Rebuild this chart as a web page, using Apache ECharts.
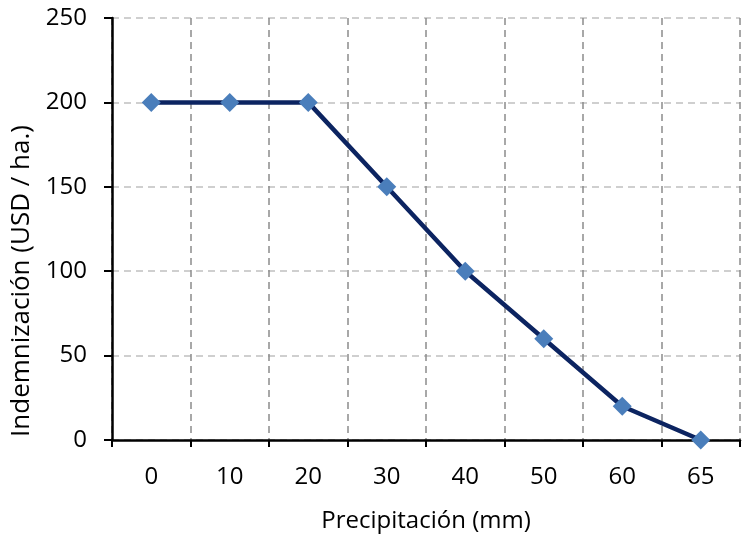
<!DOCTYPE html>
<html lang="es">
<head>
    <meta charset="UTF-8">
    <title>Indemnización</title>
    <style>
        body { margin: 0; padding: 0; background: #fff; }
        #chart { width: 742px; height: 537px; }
    </style>
    <script src="https://cdn.jsdelivr.net/npm/echarts@6/dist/echarts.min.js"></script>
</head>
<body>
    <div id="chart"></div>
    <script>
        // datos
        var categories = ['0', '10', '20', '30', '40', '50', '60', '65'];
        var indemnizacion = [200, 200, 200, 150, 100, 60, 20, 0];

        var myChart = echarts.init(document.getElementById('chart'));
        var font = '"Open Sans", sans-serif';
        var option = {
            animation: false,
            grid: { left: 112, right: 2, top: 18, bottom: 97, outerBoundsMode: 'none', containLabel: false },
            xAxis: {
                type: 'category',
                data: categories,
                boundaryGap: true,
                name: 'Precipitación (mm)',
                nameLocation: 'middle',
                nameGap: 69,
                nameTextStyle: { color: '#000', fontSize: 24, fontFamily: font },
                axisLine: { lineStyle: { color: '#000', width: 2.5 } },
                axisTick: { show: true, length: 7, lineStyle: { color: '#000', width: 2 } },
                axisLabel: { color: '#000', fontSize: 24, fontFamily: font, margin: 25 },
                splitLine: { show: true, lineStyle: { color: '#8c8c8c', type: [7, 5], width: 1.5 } }
            },
            yAxis: {
                type: 'value',
                min: 0,
                max: 250,
                interval: 50,
                name: 'Indemnización (USD / ha.)',
                nameLocation: 'middle',
                nameGap: 74,
                // el título está desplazado hacia abajo respecto al centro del eje
                nameTextStyle: { color: '#000', fontSize: 26, fontFamily: font, padding: [0, 104, 0, 0] },
                axisLine: { show: true, lineStyle: { color: '#000', width: 2.5 } },
                axisTick: { show: true, length: 8, lineStyle: { color: '#000', width: 2 } },
                axisLabel: { color: '#000', fontSize: 24, fontFamily: font, margin: 25 },
                splitLine: { show: true, lineStyle: { color: '#c0c0c0', type: [7, 5], width: 1.5 } }
            },
            series: [{
                type: 'line',
                data: indemnizacion,
                symbol: 'diamond',
                symbolSize: 19,
                lineStyle: { color: '#0c2461', width: 4.5 },
                itemStyle: { color: '#4a7ebb' },
                z: 5
            }]
        };
        myChart.setOption(option);
    </script>
</body>
</html>
